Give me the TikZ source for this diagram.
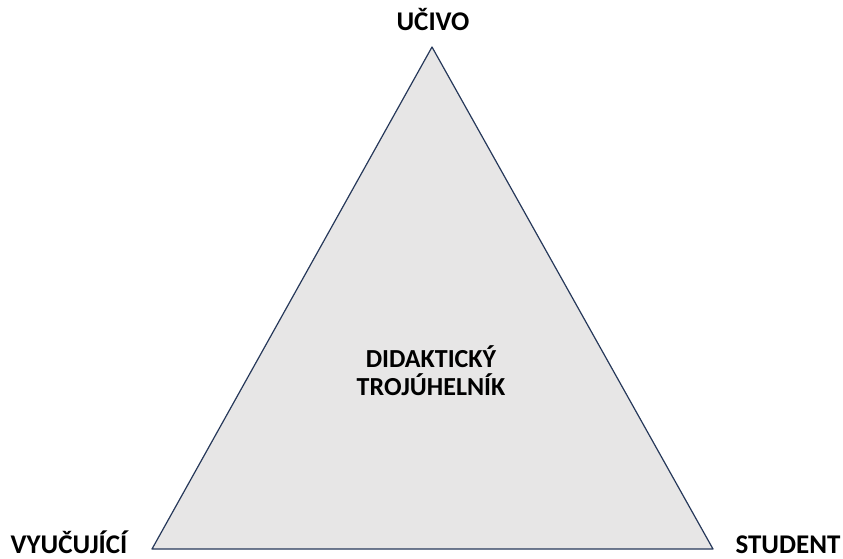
\documentclass[tikz,border=0pt]{standalone}
\usepackage{fontspec}
\setmainfont{Carlito}
\definecolor{trifill}{RGB}{231,230,230}
\definecolor{triedge}{RGB}{38,56,90}
\begin{document}
\begin{tikzpicture}[x=1pt,y=-1pt,
  lbl/.style={font=\fontsize{27}{32}\selectfont\bfseries, inner sep=0pt, anchor=base},
  ctr/.style={font=\fontsize{26}{30}\selectfont\bfseries, inner sep=0pt, anchor=base},
  tri/.style={fill=trifill, draw=triedge, line width=1.2pt, line join=round}]
\useasboundingbox (0,0) rectangle (843,558);
\coordinate (top) at (432,47);
\coordinate (bl) at (152,549);
\coordinate (br) at (713,549);
\draw[tri] (top) -- (bl) -- (br) -- cycle;
\node[lbl] (ucivo) at (433,30) {UČIVO};
\node[lbl] (vyuc) at (69,553) {VYUČUJÍCÍ};
\node[lbl] (stud) at (788,553) {STUDENT};
\node[ctr] (c1) at (431,367) {DIDAKTICKÝ};
\node[ctr] (c2) at (431,395) {TROJÚHELNÍK};
\end{tikzpicture}
\end{document}
